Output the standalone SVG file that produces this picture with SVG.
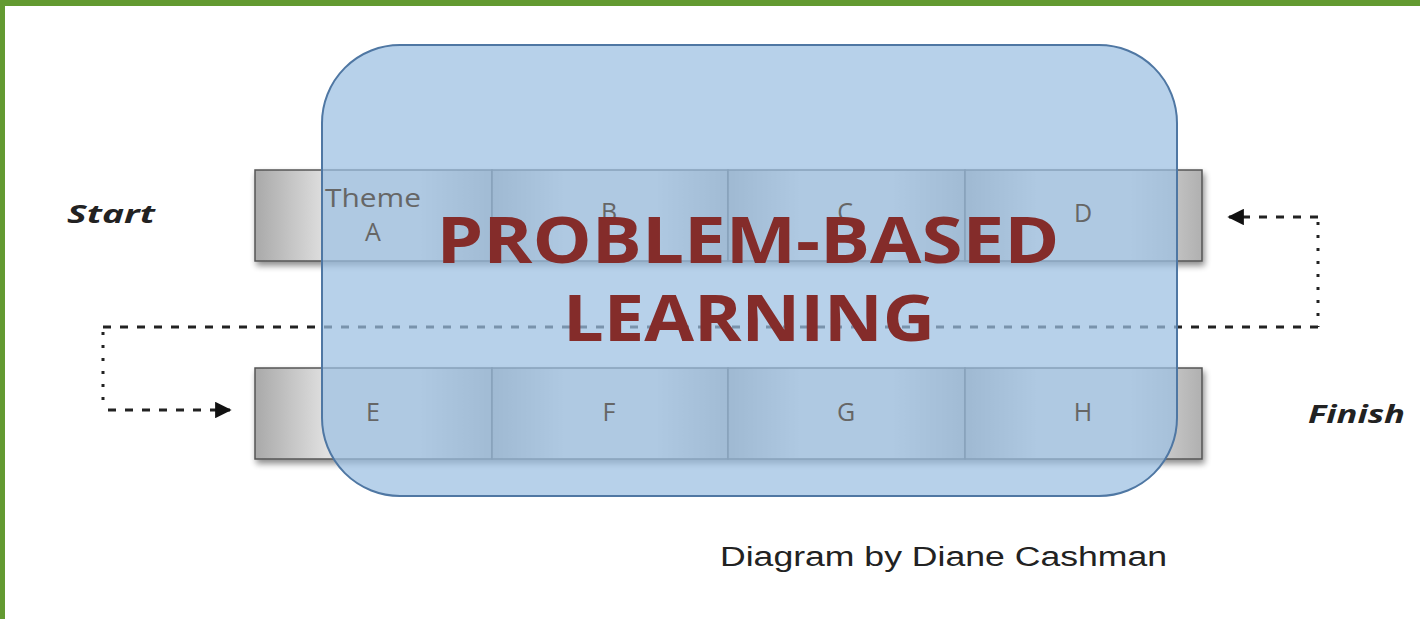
<svg xmlns="http://www.w3.org/2000/svg" width="1420" height="619" viewBox="0 0 1420 619">
<defs>
<style>
.cell{fill:url(#cellg);stroke:#555;stroke-width:1.5}
.lbl{font-family:"Open Sans","DejaVu Sans",sans-serif;font-size:25px;fill:#666;text-anchor:middle}
.side{font-family:"Open Sans","DejaVu Sans",sans-serif;font-size:25px;font-weight:bold;font-style:italic;fill:#222}
.title{font-family:"Open Sans","Liberation Sans",sans-serif;font-size:65px;font-weight:bold;fill:#842c2a;text-anchor:middle}
.conn{fill:none;stroke:#222;stroke-width:3}
.dash{stroke-dasharray:8 9}
.dot{stroke-dasharray:3 10}
</style>
<linearGradient id="cellg" x1="0" y1="0" x2="1" y2="0">
<stop offset="0" stop-color="#a9a9a9"/>
<stop offset="0.3" stop-color="#e0e0e0"/>
<stop offset="0.7" stop-color="#e0e0e0"/>
<stop offset="1" stop-color="#b0b0b0"/>
</linearGradient>
<filter id="sh" x="-5%" y="-10%" width="110%" height="130%">
<feGaussianBlur in="SourceAlpha" stdDeviation="3"/>
<feOffset dx="2" dy="4" result="b"/>
<feComponentTransfer><feFuncA type="linear" slope="0.45"/></feComponentTransfer>
<feMerge><feMergeNode/><feMergeNode in="SourceGraphic"/></feMerge>
</filter>
<marker id="ah" viewBox="0 0 10 10" refX="9" refY="5" markerWidth="8" markerHeight="5.5" orient="auto" markerUnits="strokeWidth">
<path d="M0,0 L10,5 L0,10 z" fill="#111"/>
</marker>
</defs>
<rect x="0" y="0" width="1420" height="619" fill="#fff"/>
<rect x="0" y="0" width="1420" height="6" fill="#639a31"/>
<rect x="0" y="0" width="5" height="619" fill="#639a31"/>

<g id="bar-top" filter="url(#sh)">
<rect class="cell" x="255" y="170" width="237" height="91"/>
<rect class="cell" x="492" y="170" width="236" height="91"/>
<rect class="cell" x="728" y="170" width="237" height="91"/>
<rect class="cell" x="965" y="170" width="237" height="91"/>
</g>
<g id="bar-bottom" filter="url(#sh)">
<rect class="cell" x="255" y="368" width="237" height="91"/>
<rect class="cell" x="492" y="368" width="236" height="91"/>
<rect class="cell" x="728" y="368" width="237" height="91"/>
<rect class="cell" x="965" y="368" width="237" height="91"/>
</g>

<g id="connectors">
<path class="conn dash" d="M1318,217 L1229,217" marker-end="url(#ah)"/>
<path class="conn dot" d="M1318,222 L1318,327"/>
<path class="conn dash" d="M1318,327 L103,327"/>
<path class="conn dot" d="M103,332 L103,410"/>
<path class="conn dash" d="M108,410 L230,410" marker-end="url(#ah)"/>
</g>

<g id="overlay">
<rect x="322" y="45" width="855" height="451" rx="78" ry="78" fill="#9bbfe2" fill-opacity="0.72" stroke="#4f77a3" stroke-width="2"/>
</g>

<g id="cell-labels">
<text class="lbl" x="373" y="207" textLength="96" lengthAdjust="spacingAndGlyphs">Theme</text>
<text class="lbl" x="373" y="241">A</text>
<text class="lbl" x="609" y="221">B</text>
<text class="lbl" x="845" y="221">C</text>
<text class="lbl" x="1083" y="222">D</text>
<text class="lbl" x="373" y="421">E</text>
<text class="lbl" x="609" y="421">F</text>
<text class="lbl" x="846" y="421">G</text>
<text class="lbl" x="1083" y="421">H</text>
</g>

<g id="title">
<text class="title" x="748" y="263" textLength="623" lengthAdjust="spacingAndGlyphs">PROBLEM-BASED</text>
<text class="title" x="749" y="341" textLength="372" lengthAdjust="spacingAndGlyphs">LEARNING</text>
</g>

<g id="start"><text class="side" x="67" y="223" textLength="88" lengthAdjust="spacingAndGlyphs">Start</text></g>
<g id="finish"><text class="side" x="1308" y="423" textLength="97" lengthAdjust="spacingAndGlyphs">Finish</text></g>
<text x="720" y="566" font-family="Liberation Sans, Arial, sans-serif" font-size="27" fill="#222" textLength="447" lengthAdjust="spacingAndGlyphs">Diagram by Diane Cashman</text>
</svg>
